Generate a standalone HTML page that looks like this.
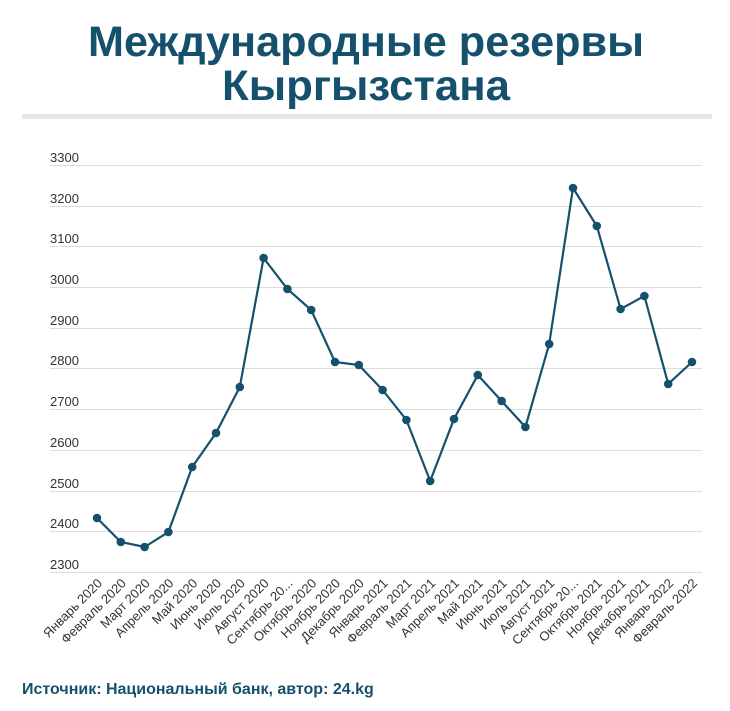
<!DOCTYPE html>
<html><head><meta charset="utf-8"><style>
html,body{margin:0;padding:0;background:#fff;}
svg{display:block;}
</style></head><body>
<svg width="730" height="711" viewBox="0 0 730 711" xmlns="http://www.w3.org/2000/svg" font-family="Liberation Sans, sans-serif">
<text x="366" y="56" text-anchor="middle" font-size="43" font-weight="bold" fill="#15506d" textLength="556" lengthAdjust="spacingAndGlyphs">Международные резервы</text>
<text x="366" y="100" text-anchor="middle" font-size="43" font-weight="bold" fill="#15506d" textLength="288" lengthAdjust="spacingAndGlyphs">Кыргызстана</text>
<rect x="22" y="114" width="690" height="5" fill="#e6e6e6"/>
<g stroke="#dcdcdc" stroke-width="1">
<line x1="50" x2="702" y1="165.5" y2="165.5"/><line x1="50" x2="702" y1="206.5" y2="206.5"/><line x1="50" x2="702" y1="246.5" y2="246.5"/><line x1="50" x2="702" y1="287.5" y2="287.5"/><line x1="50" x2="702" y1="328.5" y2="328.5"/><line x1="50" x2="702" y1="368.5" y2="368.5"/><line x1="50" x2="702" y1="409.5" y2="409.5"/><line x1="50" x2="702" y1="450.5" y2="450.5"/><line x1="50" x2="702" y1="491.5" y2="491.5"/><line x1="50" x2="702" y1="531.5" y2="531.5"/><line x1="50" x2="702" y1="572.5" y2="572.5"/>
</g>
<g font-size="13" fill="#333">
<text x="50" y="162">3300</text><text x="50" y="203">3200</text><text x="50" y="243">3100</text><text x="50" y="284">3000</text><text x="50" y="325">2900</text><text x="50" y="365">2800</text><text x="50" y="406">2700</text><text x="50" y="447">2600</text><text x="50" y="488">2500</text><text x="50" y="528">2400</text><text x="50" y="569">2300</text>
</g>
<polyline fill="none" stroke="#15506d" stroke-width="2.2" points="97,518 120.8,542 144.6,547 168.4,532 192.2,467 216,433 239.8,387 263.6,258 287.4,289 311.2,310 335,362 358.8,365 382.6,390 406.4,420 430.2,481 454,419 477.8,375 501.6,401 525.4,427 549.2,344 573,188 596.8,226 620.6,309 644.4,296 668.2,384 692,362"/>
<g fill="#15506d">
<circle cx="97" cy="518" r="4.3"/><circle cx="120.8" cy="542" r="4.3"/><circle cx="144.6" cy="547" r="4.3"/><circle cx="168.4" cy="532" r="4.3"/><circle cx="192.2" cy="467" r="4.3"/><circle cx="216" cy="433" r="4.3"/><circle cx="239.8" cy="387" r="4.3"/><circle cx="263.6" cy="258" r="4.3"/><circle cx="287.4" cy="289" r="4.3"/><circle cx="311.2" cy="310" r="4.3"/><circle cx="335" cy="362" r="4.3"/><circle cx="358.8" cy="365" r="4.3"/><circle cx="382.6" cy="390" r="4.3"/><circle cx="406.4" cy="420" r="4.3"/><circle cx="430.2" cy="481" r="4.3"/><circle cx="454" cy="419" r="4.3"/><circle cx="477.8" cy="375" r="4.3"/><circle cx="501.6" cy="401" r="4.3"/><circle cx="525.4" cy="427" r="4.3"/><circle cx="549.2" cy="344" r="4.3"/><circle cx="573" cy="188" r="4.3"/><circle cx="596.8" cy="226" r="4.3"/><circle cx="620.6" cy="309" r="4.3"/><circle cx="644.4" cy="296" r="4.3"/><circle cx="668.2" cy="384" r="4.3"/><circle cx="692" cy="362" r="4.3"/>
</g>
<g font-size="13" fill="#333" text-anchor="end">
<text transform="translate(103,584) rotate(-45)">Январь 2020</text>
<text transform="translate(126.8,584) rotate(-45)">Февраль 2020</text>
<text transform="translate(150.6,584) rotate(-45)">Март 2020</text>
<text transform="translate(174.4,584) rotate(-45)">Апрель 2020</text>
<text transform="translate(198.2,584) rotate(-45)">Май 2020</text>
<text transform="translate(222,584) rotate(-45)">Июнь 2020</text>
<text transform="translate(245.8,584) rotate(-45)">Июль 2020</text>
<text transform="translate(269.6,584) rotate(-45)">Август 2020</text>
<text transform="translate(293.4,584) rotate(-45)">Сентябрь 20...</text>
<text transform="translate(317.2,584) rotate(-45)">Октябрь 2020</text>
<text transform="translate(341,584) rotate(-45)">Ноябрь 2020</text>
<text transform="translate(364.8,584) rotate(-45)">Декабрь 2020</text>
<text transform="translate(388.6,584) rotate(-45)">Январь 2021</text>
<text transform="translate(412.4,584) rotate(-45)">Февраль 2021</text>
<text transform="translate(436.2,584) rotate(-45)">Март 2021</text>
<text transform="translate(460,584) rotate(-45)">Апрель 2021</text>
<text transform="translate(483.8,584) rotate(-45)">Май 2021</text>
<text transform="translate(507.6,584) rotate(-45)">Июнь 2021</text>
<text transform="translate(531.4,584) rotate(-45)">Июль 2021</text>
<text transform="translate(555.2,584) rotate(-45)">Август 2021</text>
<text transform="translate(579,584) rotate(-45)">Сентябрь 20...</text>
<text transform="translate(602.8,584) rotate(-45)">Октябрь 2021</text>
<text transform="translate(626.6,584) rotate(-45)">Ноябрь 2021</text>
<text transform="translate(650.4,584) rotate(-45)">Декабрь 2021</text>
<text transform="translate(674.2,584) rotate(-45)">Январь 2022</text>
<text transform="translate(698,584) rotate(-45)">Февраль 2022</text>
</g>
<text x="22" y="694" font-size="16" font-weight="bold" fill="#15506d">Источник: Национальный банк, автор: 24.kg</text>
</svg>
</body></html>
